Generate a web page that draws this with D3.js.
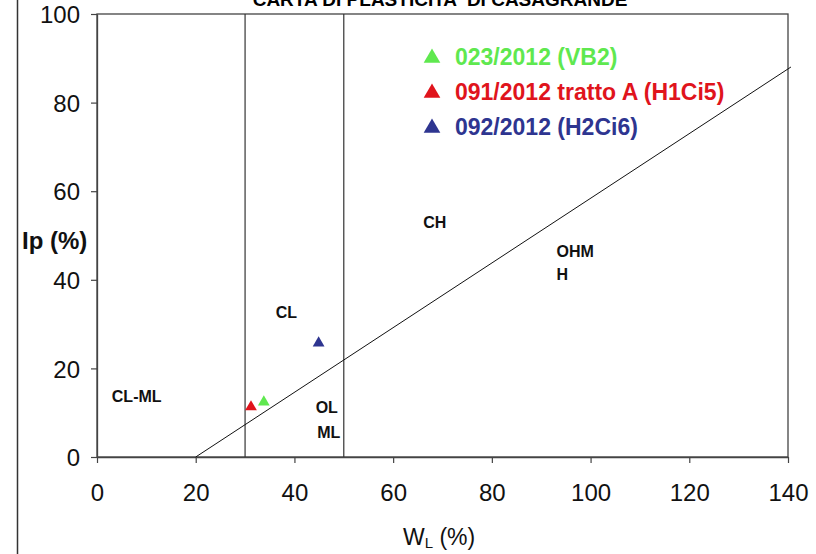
<!DOCTYPE html>
<html>
<head>
<meta charset="utf-8">
<script src="https://cdn.jsdelivr.net/npm/d3@7"></script>
<style>
  body { margin: 0; background: #fff; }
  svg { display: block; font-family: "Liberation Sans", Arial, sans-serif; }
</style>
</head>
<body>
<div id="chart"></div>
<script>
// campioni (wL, Ip)
const samples = [
  { name: "023/2012 (VB2)", color: "#5fe84f", wl: 33.8, ip: 12.4 },
  { name: "091/2012 tratto A (H1Ci5)", color: "#e0141c", wl: 31.2, ip: 11.3 },
  { name: "092/2012 (H2Ci6)", color: "#2e3590", wl: 44.9, ip: 25.7 }
];
// linea A: Ip = 0.73 (wL - 20)
const aLine = [[20, 0], [140.6, 0.73 * 120.6]];
const limits = [30, 50];
const xTicks = [0, 20, 40, 60, 80, 100, 120, 140];
const yTicks = [0, 20, 40, 60, 80, 100];
const zones = [
  { t: "CL-ML", wl: 3, ip: 12.4 },
  { t: "CL", wl: 36.2, ip: 31.3 },
  { t: "CH", wl: 66.1, ip: 51.6 },
  { t: "OHM", wl: 93.1, ip: 45.1 },
  { t: "H", wl: 93.1, ip: 39.9 },
  { t: "OL", wl: 44.3, ip: 9.9 },
  { t: "ML", wl: 44.6, ip: 4.3 }
];

const width = 816, height = 554;
const x = d3.scaleLinear().domain([0, 140]).range([97, 788]);
const y = d3.scaleLinear().domain([0, 100]).range([457, 14]);

const svg = d3.select("#chart").append("svg")
  .attr("width", width).attr("height", height);

// cornice esterna (solo bordo sinistro visibile)
svg.append("line").attr("x1", 17.5).attr("x2", 17.5).attr("y1", 0).attr("y2", height)
  .attr("stroke", "#333").attr("stroke-width", 1.5);

// titolo (tagliato in alto, come nell'originale)
svg.append("text").attr("x", 440).attr("y", 6).attr("text-anchor", "middle")
  .style("font-size", "19px").style("font-weight", "bold")
  .text("CARTA DI PLASTICITA' DI CASAGRANDE");

// riquadro
svg.append("rect").attr("x", x(0)).attr("y", y(100))
  .attr("width", x(140) - x(0)).attr("height", y(0) - y(100))
  .attr("fill", "none").attr("stroke", "#444").attr("stroke-width", 1.3);

// assi
const xAxis = svg.append("g").attr("transform", `translate(0,${y(0)})`)
  .call(d3.axisBottom(x).tickValues(xTicks).tickSize(6).tickSizeOuter(0).tickPadding(21));
const yAxis = svg.append("g").attr("transform", `translate(${x(0)},0)`)
  .call(d3.axisLeft(y).tickValues(yTicks).tickSize(6).tickSizeOuter(0).tickPadding(11));
[xAxis, yAxis].forEach(a => {
  a.select(".domain").attr("stroke", "#444").attr("stroke-width", 1.3);
  a.selectAll(".tick line").attr("stroke", "#444").attr("stroke-width", 1.2);
  a.selectAll(".tick text").attr("fill", "#111")
    .style("font-size", "24px").style("font-family", "Liberation Sans, Arial, sans-serif");
});
yAxis.selectAll(".tick text").attr("dy", "0.36em");

// limiti wL 30 / 50
svg.selectAll("line.lim").data(limits).enter().append("line").attr("class", "lim")
  .attr("x1", d => x(d)).attr("x2", d => x(d)).attr("y1", y(0)).attr("y2", y(100))
  .attr("stroke", "#333").attr("stroke-width", 1.2);

// linea A
svg.append("path").datum(aLine)
  .attr("d", d3.line().x(d => x(d[0])).y(d => y(d[1])))
  .attr("fill", "none").attr("stroke", "#111").attr("stroke-width", 1);

// etichette zone
svg.selectAll("text.zone").data(zones).enter().append("text").attr("class", "zone")
  .attr("x", d => x(d.wl)).attr("y", d => y(d.ip))
  .style("font-size", "16px").style("font-weight", "bold").attr("fill", "#111")
  .text(d => d.t);

// punti
const tri = d3.symbol().type(d3.symbolTriangle).size(60);
svg.selectAll("path.pt").data(samples).enter().append("path").attr("class", "pt")
  .attr("d", tri)
  .attr("transform", d => `translate(${x(d.wl)},${y(d.ip)})`)
  .attr("fill", d => d.color);

// legenda
const leg = svg.selectAll("g.leg").data(samples).enter().append("g").attr("class", "leg")
  .attr("transform", (d, i) => `translate(432,${58 + i * 35})`);
leg.append("path").attr("d", d3.symbol().type(d3.symbolTriangle).size(120))
  .attr("fill", d => d.color);
leg.append("text").attr("x", 23).attr("y", 7)
  .style("font-size", "23px").style("font-weight", "bold")
  .attr("fill", d => d.color).text(d => d.name);

// titoli assi
svg.append("text").attr("x", 22).attr("y", 249)
  .style("font-size", "24px").style("font-weight", "bold").attr("fill", "#111")
  .text("Ip (%)");
const wl = svg.append("text").attr("x", 403).attr("y", 545)
  .style("font-size", "23px").attr("fill", "#111");
wl.append("tspan").text("W");
wl.append("tspan").attr("dy", 3).style("font-size", "15px").text("L");
wl.append("tspan").attr("dy", -3).text(" (%)");
</script>
</body>
</html>
